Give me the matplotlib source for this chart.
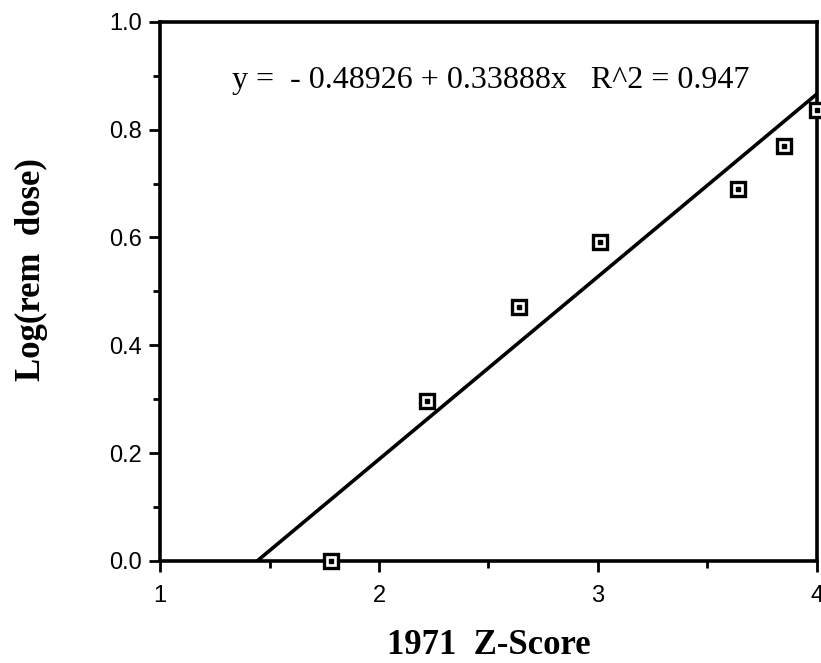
import numpy as np
import matplotlib.pyplot as plt

# datos
z_score = [1.78, 2.22, 2.64, 3.01, 3.64, 3.85, 4.00]
log_dose = [0.00, 0.297, 0.471, 0.592, 0.690, 0.770, 0.837]

intercepto = -0.48926
pendiente = 0.33888
r2 = 0.947

fig = plt.figure(figsize=(8.21, 6.63), dpi=100)
ax = fig.add_axes([0.195, 0.154, 0.8, 0.813])

# recta de regresion desde y=0 hasta x=4
x0 = -intercepto / pendiente
x_linea = np.array([x0, 4.0])
ax.plot(x_linea, intercepto + pendiente * x_linea, color='black', lw=2.6, zorder=3)

# puntos: cuadrado abierto con punto central
ax.plot(z_score, log_dose, 's', ms=10, mfc='white', mec='black', mew=2.4,
        clip_on=False, zorder=5)
ax.plot(z_score, log_dose, 's', ms=2.5, mfc='black', mec='black',
        clip_on=False, zorder=6)

ax.set_xlim(1, 4)
ax.set_ylim(0, 1.0)
ax.set_xticks([1, 2, 3, 4])
ax.set_xticks([1.5, 2.5, 3.5], minor=True)
ax.set_yticks([0.0, 0.2, 0.4, 0.6, 0.8, 1.0])
ax.set_yticks(np.arange(0.1, 1.0, 0.2), minor=True)
ax.set_yticklabels(['0.0', '0.2', '0.4', '0.6', '0.8', '1.0'])

for lado in ax.spines.values():
    lado.set_linewidth(2.6)

ax.tick_params(axis='both', which='major', direction='out', length=8, width=2,
               labelsize=17, pad=5)
ax.tick_params(axis='both', which='minor', direction='out', length=5, width=2)
ax.tick_params(axis='x', which='major', pad=9)
for etiqueta in ax.get_xticklabels() + ax.get_yticklabels():
    etiqueta.set_fontfamily('Liberation Sans')

ax.text(2.51, 0.892,
        'y =  - 0.48926 + 0.33888x   R^2 = ' + str(r2),
        ha='center', va='center', fontsize=23, family='Liberation Serif')

ax.set_xlabel('1971  Z-Score', fontsize=25, fontweight='bold',
              family='Liberation Serif', labelpad=16)
ax.set_ylabel('Log(rem  dose)', fontsize=25, fontweight='bold',
              family='Liberation Serif')
ax.yaxis.set_label_coords(-0.17, 0.54)

plt.savefig('out.png', dpi=100)
